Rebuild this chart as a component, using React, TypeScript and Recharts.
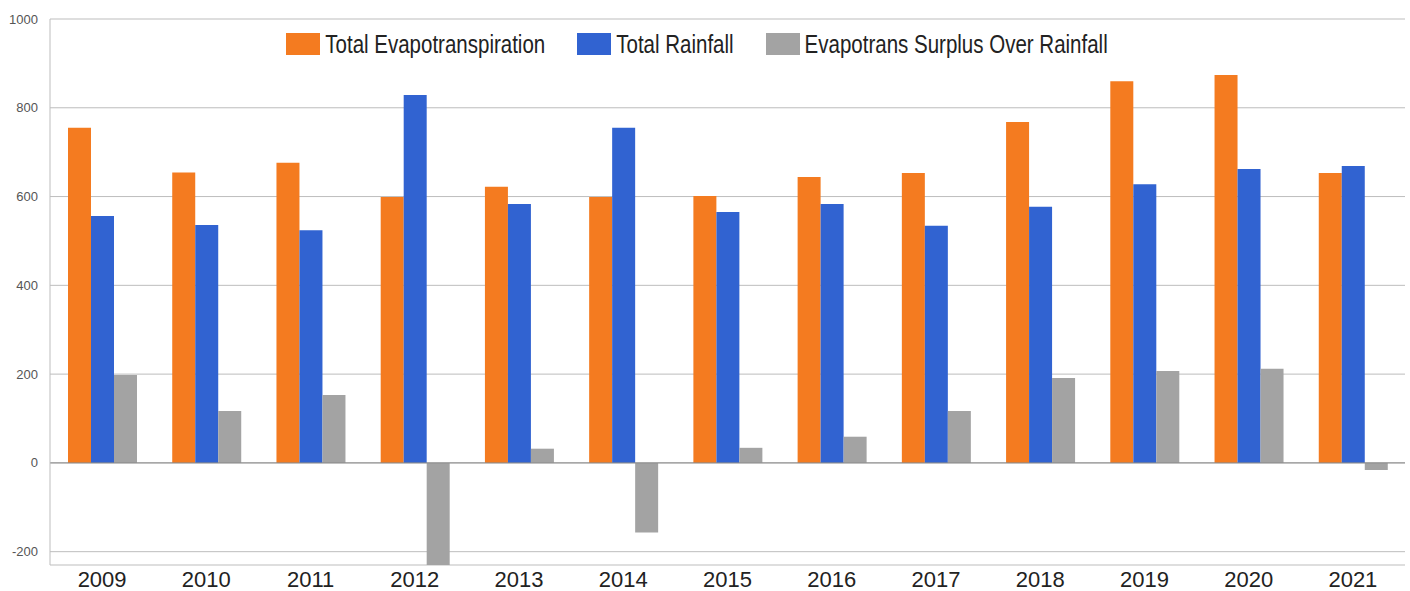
import React from 'react';
import { BarChart, Bar, XAxis, YAxis, CartesianGrid, ReferenceLine } from 'recharts';

const years = ['2009', '2010', '2011', '2012', '2013', '2014', '2015', '2016', '2017', '2018', '2019', '2020', '2021'];
const evapotranspiration = [755, 654, 676, 599, 622, 599, 601, 644, 653, 768, 860, 874, 653];
const rainfall = [556, 536, 524, 829, 583, 755, 565, 583, 534, 577, 628, 662, 669];
const surplus = [198, 117, 153, -230, 32, -157, 34, 59, 117, 191, 207, 212, -16];
const yTicks = [-200, 0, 200, 400, 600, 800, 1000];

const seriesNames = ['Total Evapotranspiration', 'Total Rainfall', 'Evapotrans Surplus Over Rainfall'];
const colors = ['#F47B20', '#3163D1', '#A3A3A3'];

const data = years.map((y, i) => ({
  year: y,
  et: evapotranspiration[i],
  rain: rainfall[i],
  surplus: surplus[i],
}));

const FONT = '"Liberation Sans", Arial, sans-serif';

const XTick = (props: any) => {
  const { x, y, payload } = props;
  return (
    <text x={x} y={y + 14} textAnchor="middle" dominantBaseline="central" fill="#222" fontSize={22} fontFamily={FONT}>
      {payload.value}
    </text>
  );
};

const YTick = (props: any) => {
  const { x, y, payload } = props;
  return (
    <text x={x} y={y} textAnchor="end" dominantBaseline="central" fill="#555" fontSize={13} fontFamily={FONT}>
      {payload.value}
    </text>
  );
};

const LegendBox = () => (
  <div
    style={{
      position: 'absolute',
      top: 33,
      left: -8,
      width: 1410,
      height: 22,
      display: 'flex',
      justifyContent: 'center',
      alignItems: 'center',
      fontFamily: FONT,
      fontSize: 20.5,
      color: '#222',
      pointerEvents: 'none',
    }}
  >
    {seriesNames.map((n, i) => (
      <div key={n} style={{ display: 'flex', alignItems: 'center', marginRight: i < 2 ? 32 : 0 }}>
        <div style={{ width: 34, height: 22, background: colors[i], marginRight: 5 }} />
        <span style={{ display: 'inline-block', transform: 'scaleY(1.3)', lineHeight: '22px' }}>{n}</span>
      </div>
    ))}
  </div>
);

export default function App() {
  return (
    <div style={{ position: 'absolute', left: 0, top: 0, width: 1410, height: 591, background: '#fff' }}>
      <BarChart
        width={1410}
        height={591}
        data={data}
        margin={{ top: 19, right: 5, left: 0, bottom: 0 }}
        barGap={0}
      >
        <CartesianGrid vertical={false} stroke="#bdbdbd" />
        <XAxis
          dataKey="year"
          height={26}
          tickLine={false}
          tickSize={0}
          tickMargin={0}
          axisLine={false}
          tick={<XTick />}
          interval={0}
        />
        <YAxis
          width={50}
          domain={[-230, 1000]}
          ticks={yTicks}
          tickLine={false}
          tickSize={0}
          tickMargin={12}
          axisLine={{ stroke: '#bdbdbd' }}
          tick={<YTick />}
          interval={0}
        />
        <ReferenceLine y={0} stroke="#8a8a8a" />
        <Bar dataKey="et" name={seriesNames[0]} fill={colors[0]} barSize={23} isAnimationActive={false} />
        <Bar dataKey="rain" name={seriesNames[1]} fill={colors[1]} barSize={23} isAnimationActive={false} />
        <Bar dataKey="surplus" name={seriesNames[2]} fill={colors[2]} barSize={23} isAnimationActive={false} />
      </BarChart>
      <LegendBox />
    </div>
  );
}
